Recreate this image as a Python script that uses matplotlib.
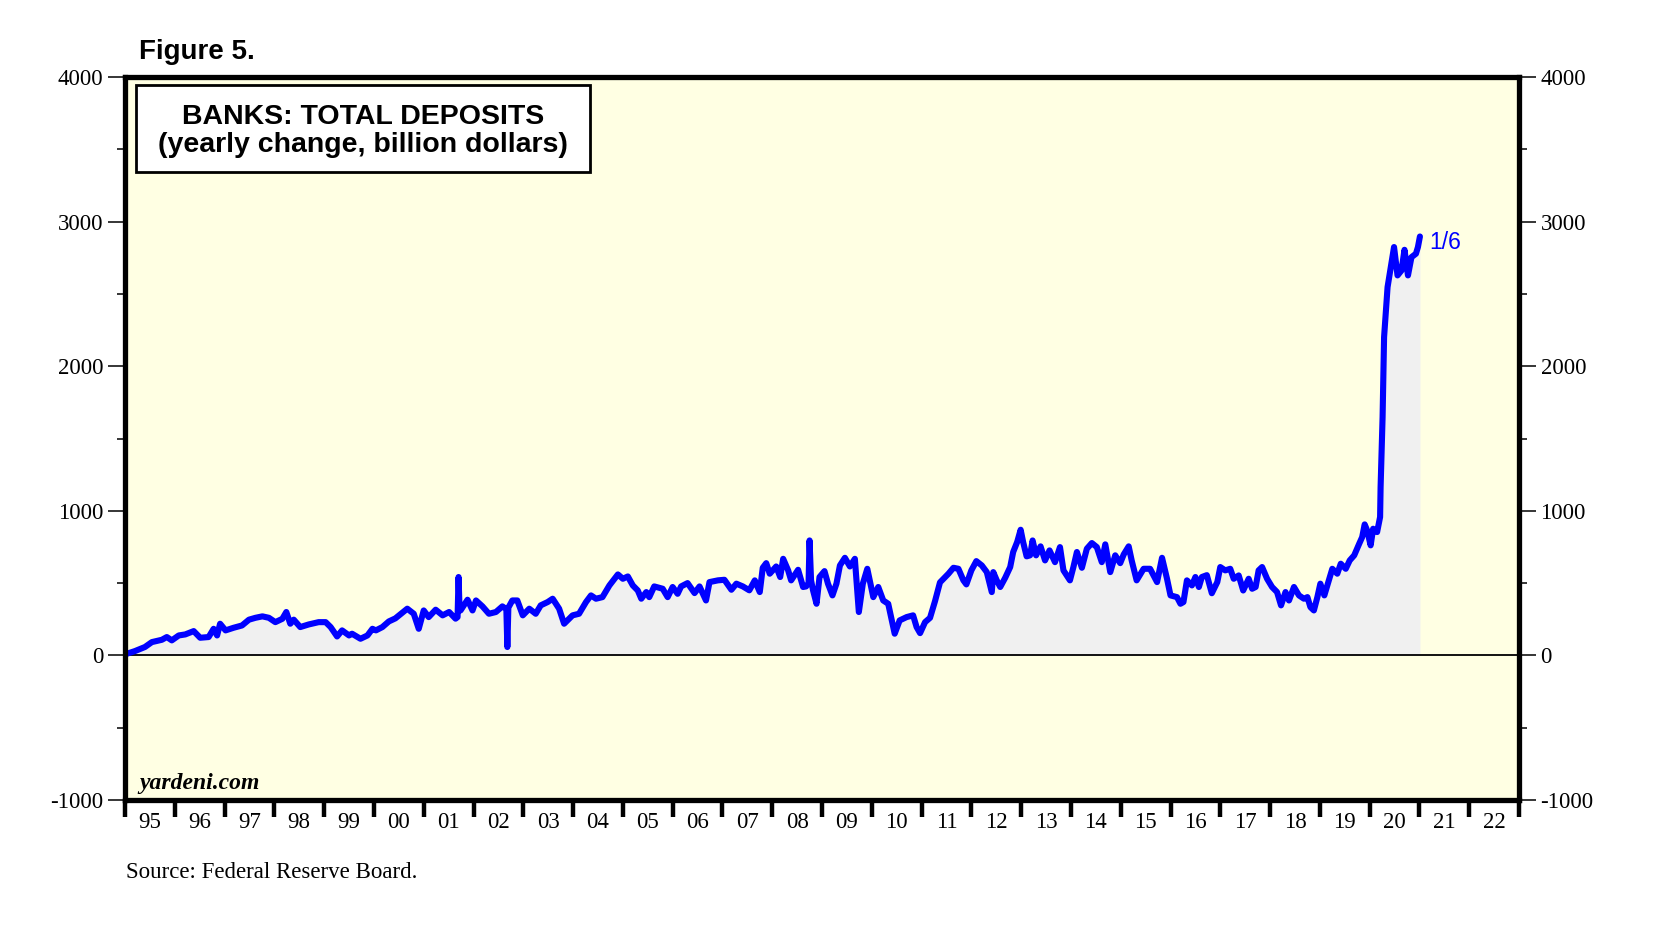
import matplotlib
matplotlib.use('Agg')
import matplotlib.pyplot as plt
from matplotlib.patches import Rectangle
from matplotlib.ticker import MultipleLocator, FixedLocator, NullFormatter, FixedFormatter

plt.rcParams['axes.unicode_minus'] = False

# ---------------- data ----------------
dates = [
    1995.00, 1995.20, 1995.40, 1995.54, 1995.74, 1995.84, 1995.94, 1996.08, 1996.21, 1996.38,
    1996.51, 1996.68, 1996.78, 1996.85, 1996.91, 1997.02, 1997.18, 1997.35, 1997.49, 1997.62,
    1997.76, 1997.89, 1998.02, 1998.16, 1998.24, 1998.32, 1998.39, 1998.52, 1998.69, 1998.89,
    1999.03, 1999.13, 1999.26, 1999.36, 1999.50, 1999.56, 1999.73, 1999.87, 1999.97, 2000.04,
    2000.17, 2000.30, 2000.43, 2000.67, 2000.80, 2000.90, 2001.00, 2001.10, 2001.24, 2001.38,
    2001.51, 2001.64, 2001.68, 2001.70, 2001.72, 2001.74, 2001.88, 2001.98, 2002.05, 2002.18,
    2002.31, 2002.45, 2002.58, 2002.66, 2002.68, 2002.70, 2002.78, 2002.88, 2002.99, 2003.12,
    2003.25, 2003.35, 2003.49, 2003.59, 2003.72, 2003.82, 2003.99, 2004.12, 2004.26, 2004.36,
    2004.46, 2004.59, 2004.73, 2004.90, 2005.00, 2005.10, 2005.20, 2005.30, 2005.37, 2005.47,
    2005.53, 2005.63, 2005.80, 2005.90, 2006.00, 2006.10, 2006.17, 2006.30, 2006.44, 2006.54,
    2006.67, 2006.74, 2006.91, 2007.04, 2007.18, 2007.28, 2007.41, 2007.54, 2007.65, 2007.75,
    2007.81, 2007.88, 2007.95, 2008.08, 2008.16, 2008.22, 2008.32, 2008.38, 2008.52, 2008.62,
    2008.68, 2008.73, 2008.75, 2008.78, 2008.82, 2008.89, 2008.95, 2009.05, 2009.12, 2009.21,
    2009.29, 2009.36, 2009.46, 2009.56, 2009.66, 2009.74, 2009.82, 2009.91, 2010.03, 2010.13,
    2010.23, 2010.33, 2010.46, 2010.56, 2010.70, 2010.83, 2010.90, 2010.97, 2011.07, 2011.17,
    2011.27, 2011.37, 2011.44, 2011.54, 2011.64, 2011.74, 2011.84, 2011.90, 2012.00, 2012.10,
    2012.21, 2012.31, 2012.41, 2012.44, 2012.51, 2012.58, 2012.68, 2012.78, 2012.84, 2012.92,
    2012.99, 2013.04, 2013.11, 2013.18, 2013.23, 2013.30, 2013.39, 2013.48, 2013.57, 2013.68,
    2013.78, 2013.85, 2013.98, 2014.05, 2014.12, 2014.22, 2014.32, 2014.42, 2014.52, 2014.62,
    2014.69, 2014.79, 2014.89, 2014.99, 2015.06, 2015.16, 2015.22, 2015.32, 2015.46, 2015.59,
    2015.73, 2015.83, 2015.93, 2016.00, 2016.13, 2016.20, 2016.26, 2016.33, 2016.43, 2016.50,
    2016.57, 2016.63, 2016.73, 2016.83, 2016.94, 2017.00, 2017.10, 2017.20, 2017.27, 2017.37,
    2017.46, 2017.57, 2017.64, 2017.71, 2017.77, 2017.84, 2017.94, 2018.04, 2018.14, 2018.22,
    2018.31, 2018.38, 2018.48, 2018.58, 2018.68, 2018.75, 2018.81, 2018.88, 2018.95, 2019.01,
    2019.09, 2019.18, 2019.25, 2019.35, 2019.42, 2019.52, 2019.60, 2019.69, 2019.79, 2019.85,
    2019.90, 2019.95, 2020.02, 2020.07, 2020.15, 2020.21, 2020.22, 2020.26, 2020.29, 2020.36,
    2020.42, 2020.49, 2020.56, 2020.64, 2020.70, 2020.77, 2020.84, 2020.93, 2020.97, 2021.01,
]

deposits_change = [
    7, 30, 58, 92, 108, 127, 104, 138, 145, 168,
    122, 127, 184, 138, 219, 173, 191, 207, 247, 260,
    270, 260, 230, 253, 300, 219, 247, 196, 214, 230,
    230, 196, 131, 173, 138, 150, 115, 138, 184, 173,
    196, 235, 256, 323, 288, 184, 311, 265, 316, 277,
    300, 254, 265, 542, 320, 311, 385, 311, 380, 339,
    288, 300, 339, 320, 58, 330, 380, 380, 277, 323,
    288, 346, 369, 392, 323, 219, 277, 288, 369, 415,
    392, 403, 484, 560, 530, 546, 484, 449, 392, 438,
    403, 477, 461, 403, 473, 426, 477, 500, 431, 477,
    380, 507, 519, 523, 454, 496, 477, 450, 519, 438,
    606, 638, 565, 615, 542, 668, 588, 519, 592, 473,
    477, 500, 795, 520, 450, 357, 542, 583, 496, 415,
    496, 622, 675, 615, 668, 300, 496, 599, 403, 473,
    380, 357, 150, 242, 265, 277, 196, 154, 230, 260,
    375, 505, 530, 565, 606, 599, 519, 491, 588, 652,
    622, 576, 438, 576, 519, 473, 537, 611, 715, 784,
    869, 784, 685, 692, 795, 692, 754, 657, 726, 645,
    749, 588, 519, 611, 715, 606, 738, 777, 749, 645,
    768, 576, 692, 638, 698, 754, 657, 519, 599, 599,
    507, 675, 530, 415, 403, 357, 369, 519, 484, 542,
    473, 542, 555, 430, 507, 611, 588, 599, 530, 553,
    449, 530, 461, 473, 588, 611, 530, 473, 438, 346,
    438, 380, 473, 415, 392, 403, 334, 311, 403, 496,
    415, 519, 599, 565, 634, 599, 657, 692, 772, 818,
    906, 864, 761, 876, 853, 957, 1164, 1648, 2201, 2547,
    2674, 2824, 2628, 2662, 2805, 2628, 2754, 2778, 2824, 2897,
]

year_ticks = list(range(1995, 2024))
year_labels = ['95', '96', '97', '98', '99', '00', '01', '02', '03', '04',
               '05', '06', '07', '08', '09', '10', '11', '12', '13', '14',
               '15', '16', '17', '18', '19', '20', '21', '22']
last_label = '1/6'

# ---------------- figure ----------------
W, H = 1681, 933
fig = plt.figure(figsize=(W / 100, H / 100), dpi=100)
fig.patch.set_facecolor('white')

L, R, T, B = 125, 1519, 77, 800
ax = fig.add_axes([L / W, 1 - B / H, (R - L) / W, (B - T) / H])
ax.set_facecolor('#ffffe3')

SERIF = ['Liberation Serif', 'DejaVu Serif']
SANS = ['Liberation Sans', 'DejaVu Sans']

ax.fill_between(dates, 0, deposits_change, color='#f0f0f0', lw=0, zorder=1)
ax.axhline(0, color='black', lw=1.3, zorder=2)
ax.plot(dates, deposits_change, color='#0000ff', lw=4.4, zorder=3,
        solid_joinstyle='round', solid_capstyle='round')

ax.set_xlim(1995, 2023)
ax.set_ylim(-1000, 4000)

for s in ax.spines.values():
    s.set_linewidth(3.8)
    s.set_color('black')
    s.set_zorder(5)

# y axis ticks (both sides)
ax.yaxis.set_major_locator(MultipleLocator(1000))
ax.yaxis.set_minor_locator(MultipleLocator(500))
ax.tick_params(axis='y', which='major', direction='out', length=12.5, width=1.1,
               left=True, right=True, labelleft=True, labelright=True,
               labelsize=16.5, pad=3)
ax.tick_params(axis='y', which='minor', direction='out', length=6, width=1.1,
               left=True, right=True)

# x axis: year boundaries as heavy ticks, labels centred between them
ax.xaxis.set_major_locator(FixedLocator(year_ticks))
ax.xaxis.set_major_formatter(NullFormatter())
ax.xaxis.set_minor_locator(FixedLocator([y + 0.5 for y in year_ticks[:-1]]))
ax.xaxis.set_minor_formatter(FixedFormatter(year_labels))
ax.tick_params(axis='x', which='major', direction='out', length=12.5, width=3.2,
               bottom=True, top=False)
ax.tick_params(axis='x', which='minor', length=0, labelsize=16.5, pad=9)

for t in ax.yaxis.get_major_ticks():
    t.label1.set_fontfamily(SERIF)
    t.label2.set_fontfamily(SERIF)
for t in ax.xaxis.get_minor_ticks():
    t.label1.set_fontfamily(SERIF)

# end label
ax.annotate(last_label, xy=(dates[-1], deposits_change[-1]), xytext=(7, -4),
            textcoords='offset points', color='#0000ff', fontsize=16.5,
            family=SANS, ha='left', va='center')

# title box
fig.add_artist(Rectangle((136 / W, 1 - 172 / H), (590 - 136) / W, (172 - 85) / H,
                         transform=fig.transFigure, facecolor='white',
                         edgecolor='black', lw=2.0, zorder=6))
fig.text(363 / W, 1 - 116.5 / H, 'BANKS: TOTAL DEPOSITS', ha='center', va='center',
         fontsize=20.5, fontweight='bold', family=SANS, zorder=7)
fig.text(363 / W, 1 - 144.5 / H, '(yearly change, billion dollars)', ha='center',
         va='center', fontsize=20.5, fontweight='bold', family=SANS, zorder=7)

fig.text(139 / W, 1 - 52 / H, 'Figure 5.', ha='left', va='center', fontsize=20,
         fontweight='bold', family=SANS)
fig.text(139 / W, 1 - 783 / H, 'yardeni.com', ha='left', va='center', fontsize=17,
         fontweight='bold', fontstyle='italic', family=SERIF, zorder=7)
fig.text(126.5 / W, 1 - 872 / H, 'Source: Federal Reserve Board.', ha='left',
         va='center', fontsize=16.5, family=SERIF)

fig.savefig('out.png', dpi=100, facecolor='white')
